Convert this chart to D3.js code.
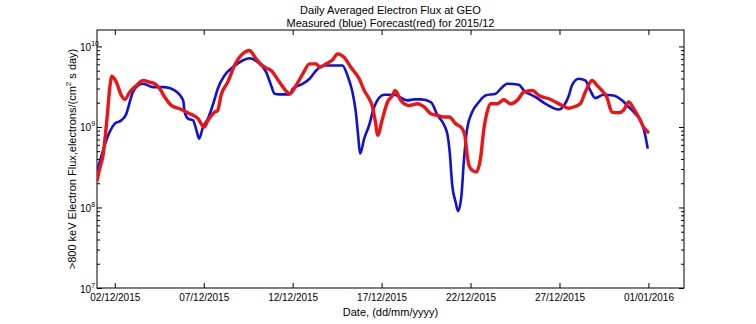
<!DOCTYPE html>
<html><head><meta charset="utf-8">
<script src="https://cdn.jsdelivr.net/npm/d3@7"></script>
<style>
body{margin:0;background:#fff;}
svg{display:block;font-family:"Liberation Sans",Arial,Helvetica,sans-serif;}
</style>
</head><body>
<svg id="c" width="756" height="324"></svg>
<script>
const titleLines = ["Daily Averaged Electron Flux at GEO", "Measured (blue) Forecast(red) for 2015/12"];
const xLabel = "Date, (dd/mm/yyyy)";
const yLabelMain = ">800 keV Electron Flux,electrons/(cm";
const yLabelSup = "2";
const yLabelEnd = " s day)";

// day = fractional day of December 2015 (1 = 01/12 00:00, 32 = 01/01/2016 00:00)
const blueDay = [1.0,1.15,1.43,1.71,2.0,2.37,2.65,2.84,3.02,3.31,
  3.59,4.15,4.81,5.37,5.84,5.93,6.12,6.40,6.59,6.74,
  6.96,7.24,7.62,7.79,8.17,8.63,9.19,9.57,10.04,10.51,
  10.79,10.98,11.26,11.82,12.01,12.57,12.95,13.32,13.79,14.80,
  15.08,15.36,15.55,15.68,15.79,16.02,16.30,16.58,17.14,17.70,
  18.46,18.83,19.21,19.77,20.15,20.52,20.71,20.83,20.97,21.16,
  21.30,21.49,21.62,21.81,22.09,22.47,22.84,23.41,23.78,24.06,
  24.72,25.00,25.66,26.22,26.97,27.25,27.53,27.70,28.08,28.45,
  28.73,29.01,29.48,30.04,30.51,30.89,31.26,31.64,31.82,31.96];
const blueFlux = [2.76e8,3.67e8,5.9e8,8.65e8,1.1e9,1.21e9,1.46e9,2.04e9,2.71e9,3.28e9,
  3.44e9,3.12e9,3.12e9,2.84e9,2.14e9,1.53e9,1.27e9,1.21e9,9.08e8,7.16e8,
  9.97e8,1.27e9,2.24e9,2.98e9,4.36e9,5.52e9,6.69e9,7.14e9,6.37e9,4.79e9,
  3.28e9,2.59e9,2.54e9,2.54e9,2.98e9,3.44e9,3.97e9,5.03e9,5.8e9,5.8e9,
  4.36e9,2.71e9,1.53e9,7.87e8,4.67e8,7.16e8,1.05e9,1.77e9,2.51e9,2.51e9,
  2.14e9,2.2e9,2.2e9,2.04e9,1.39e9,1.05e9,7.87e8,4.84e8,1.89e8,1.17e8,
  9.0e7,1.42e8,3.67e8,9.53e8,1.53e9,2.04e9,2.46e9,2.59e9,3.12e9,3.44e9,
  3.34e9,2.84e9,2.35e9,1.94e9,1.65e9,1.85e9,2.46e9,3.28e9,3.97e9,3.78e9,
  2.84e9,2.28e9,2.51e9,2.46e9,2.14e9,1.77e9,1.46e9,1.1e9,7.87e8,5.38e8];

const redDay = [1.0,1.15,1.34,1.47,1.58,1.71,1.84,2.09,2.37,2.56,
  2.84,3.22,3.59,3.96,4.25,4.53,4.81,5.18,5.75,6.21,
  6.68,7.02,7.24,7.62,7.79,7.97,8.35,8.73,9.19,9.57,
  9.94,10.42,10.79,11.26,11.85,12.19,12.57,12.95,13.32,13.51,
  13.88,14.26,14.52,14.89,15.27,15.74,16.02,16.30,16.49,16.58,
  16.67,16.77,17.05,17.33,17.61,17.76,18.08,18.55,19.02,19.39,
  19.77,20.15,20.52,20.80,21.16,21.53,21.68,21.81,21.91,22.09,
  22.32,22.56,22.75,22.93,23.13,23.50,23.87,24.25,24.62,25.00,
  25.47,25.84,26.41,27.15,27.53,27.79,28.17,28.45,28.83,29.11,
  29.38,29.66,29.95,30.32,30.60,30.89,31.17,31.45,31.73,31.97];
const redFlux = [2.14e8,3.04e8,4.45e8,7.87e8,1.39e9,2.98e9,4.27e9,3.6e9,2.46e9,2.2e9,
  2.71e9,3.28e9,3.78e9,3.6e9,3.44e9,2.98e9,2.35e9,1.85e9,1.65e9,1.46e9,
  1.27e9,9.97e8,1.21e9,1.53e9,1.61e9,2.46e9,3.6e9,5.8e9,8.09e9,8.9e9,
  7.02e9,5.52e9,5.03e9,3.6e9,2.59e9,3.28e9,4.57e9,6.08e9,6.08e9,5.52e9,
  6.08e9,6.88e9,8.09e9,7.35e9,5.52e9,3.97e9,2.84e9,2.24e9,1.77e9,1.39e9,
  1.1e9,7.87e8,1.27e9,2.04e9,2.46e9,2.84e9,2.14e9,1.85e9,1.94e9,1.77e9,
  1.46e9,1.39e9,1.33e9,1.33e9,1.1e9,9.53e8,7.87e8,4.45e8,3.34e8,2.9e8,
  2.76e8,4.05e8,9.53e8,1.53e9,1.94e9,1.94e9,2.18e9,1.94e9,2.14e9,2.71e9,
  2.84e9,2.46e9,2.24e9,1.85e9,1.71e9,1.77e9,1.94e9,2.71e9,3.78e9,3.28e9,
  2.84e9,2.35e9,1.53e9,1.5e9,1.61e9,2.04e9,1.69e9,1.33e9,9.97e8,8.65e8];

const xTickDays = [2, 7, 12, 17, 22, 27, 32];
const yMajor = [1e7, 1e8, 1e9, 1e10];
const yExp = ["7", "8", "9", "10"];

const L = 97, R = 684, T = 30, B = 288;
const t0 = Date.UTC(2015, 11, 1);
const toDate = d => new Date(t0 + (d - 1) * 864e5);

const svg = d3.select("#c");
svg.append("rect").attr("width", 756).attr("height", 324).attr("fill", "#fff");

const x = d3.scaleUtc().domain([toDate(1), toDate(34)]).range([L, R]);
const y = d3.scaleLog().domain([1e7, 1.6e10]).range([B, T]);

const yMinor = [];
for (let e = 7; e <= 10; e++) for (let m = 2; m <= 9; m++) { const v = m * Math.pow(10, e); if (v < 1.6e10) yMinor.push(v); }

function styleAxis(g) {
  g.select(".domain").remove();
  g.selectAll("line").attr("stroke", "#000").attr("stroke-width", 1);
  g.selectAll("text").attr("fill", "#000").style("font-family", '"Liberation Sans",Arial,sans-serif').style("font-size", "10px");
}

// x axes
svg.append("g").attr("transform", `translate(0,${B})`)
  .call(d3.axisBottom(x).tickValues(xTickDays.map(toDate)).tickSize(-5).tickSizeOuter(0).tickPadding(6)
    .tickFormat(d3.utcFormat("%d/%m/%Y"))).call(styleAxis);
svg.append("g").attr("transform", `translate(0,${T})`)
  .call(d3.axisTop(x).tickValues(xTickDays.map(toDate)).tickSize(-5).tickSizeOuter(0).tickFormat("")).call(styleAxis);

// y axes
const yl = svg.append("g").attr("transform", `translate(${L},0)`)
  .call(d3.axisLeft(y).tickValues(yMajor).tickSize(-5).tickSizeOuter(0).tickFormat("")).call(styleAxis);
svg.append("g").attr("transform", `translate(${L},0)`)
  .call(d3.axisLeft(y).tickValues(yMinor).tickSize(-3).tickSizeOuter(0).tickFormat("")).call(styleAxis);
svg.append("g").attr("transform", `translate(${R},0)`)
  .call(d3.axisRight(y).tickValues(yMajor).tickSize(-5).tickSizeOuter(0).tickFormat("")).call(styleAxis);
svg.append("g").attr("transform", `translate(${R},0)`)
  .call(d3.axisRight(y).tickValues(yMinor).tickSize(-3).tickSizeOuter(0).tickFormat("")).call(styleAxis);

yl.selectAll(".tick").each(function(d, i) {
  const t = d3.select(this).append("text").attr("x", -17).attr("y", 4)
    .attr("fill", "#000").style("font-size", "10px").attr("text-anchor", "start");
  t.append("tspan").text("10");
  t.append("tspan").attr("dy", -5).style("font-size", "7px").text(yExp[i]);
});

// box
svg.append("rect").attr("x", L).attr("y", T).attr("width", R - L).attr("height", B - T)
  .attr("fill", "none").attr("stroke", "#000").attr("stroke-width", 1);

// data lines
const clip = svg.append("clipPath").attr("id", "pc").append("rect")
  .attr("x", L).attr("y", T).attr("width", R - L).attr("height", B - T);
const line = d3.line().x(d => x(toDate(d[0]))).y(d => y(d[1])).curve(d3.curveMonotoneX);
svg.append("path").datum(d3.zip(blueDay, blueFlux)).attr("d", line)
  .attr("fill", "none").attr("stroke", "#1010dc").attr("stroke-width", 2.6).attr("stroke-linejoin", "round")
  .attr("clip-path", "url(#pc)");
svg.append("path").datum(d3.zip(redDay, redFlux)).attr("d", line)
  .attr("fill", "none").attr("stroke", "#ee1414").attr("stroke-width", 3.4).attr("stroke-linejoin", "round")
  .attr("stroke-linecap", "round").attr("clip-path", "url(#pc)");

// titles
svg.append("text").attr("x", (L + R) / 2).attr("y", 14).attr("text-anchor", "middle").style("font-size", "11px").text(titleLines[0]);
svg.append("text").attr("x", (L + R) / 2).attr("y", 27).attr("text-anchor", "middle").style("font-size", "11px").text(titleLines[1]);
svg.append("text").attr("x", (L + R) / 2).attr("y", 316).attr("text-anchor", "middle").style("font-size", "11px").text(xLabel);

const yt = svg.append("text").attr("transform", `translate(76,${(T + B) / 2}) rotate(-90)`)
  .attr("text-anchor", "middle").style("font-size", "11px");
yt.append("tspan").text(yLabelMain);
yt.append("tspan").attr("dy", -5).style("font-size", "8px").text(yLabelSup);
yt.append("tspan").attr("dy", 5).text(yLabelEnd);
</script>
</body></html>
